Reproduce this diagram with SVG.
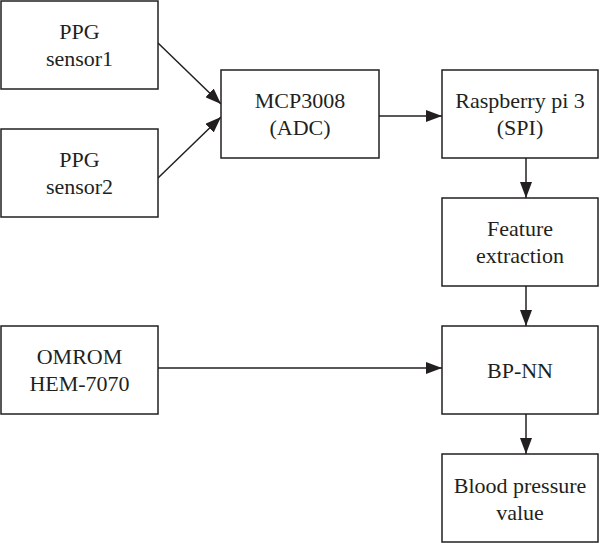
<svg xmlns="http://www.w3.org/2000/svg" width="600" height="543" viewBox="0 0 600 543">
<style>
.box{fill:#fff;stroke:#231f20;stroke-width:1.5}
.t{font-family:"Liberation Serif","Times New Roman",serif;font-size:22px;fill:#231f20;text-anchor:middle}
.c{stroke:#231f20;stroke-width:1.5;fill:none}
</style>
<defs>
<marker id="ah" viewBox="0 0 16 12" refX="16" refY="6" markerWidth="16" markerHeight="12" markerUnits="userSpaceOnUse" orient="auto">
<path d="M0,0 L16,6 L0,12 Z" fill="#231f20"/>
</marker>
</defs>
<rect width="600" height="543" fill="#fff"/>
<g id="connectors">
<line class="c" x1="158" y1="43" x2="221" y2="104" marker-end="url(#ah)"/>
<line class="c" x1="158" y1="178" x2="221" y2="117" marker-end="url(#ah)"/>
<line class="c" x1="379" y1="116" x2="442" y2="116" marker-end="url(#ah)"/>
<line class="c" x1="526" y1="158" x2="526" y2="198" marker-end="url(#ah)"/>
<line class="c" x1="526" y1="286" x2="526" y2="326" marker-end="url(#ah)"/>
<line class="c" x1="158" y1="368" x2="442" y2="368" marker-end="url(#ah)"/>
<line class="c" x1="526" y1="414" x2="526" y2="454" marker-end="url(#ah)"/>
</g>
<g id="ppg1">
<rect class="box" x="1" y="1" width="157" height="88"/>
<text class="t" x="79.5" y="39">PPG</text>
<text class="t" x="79.5" y="66">sensor1</text>
</g>
<g id="ppg2">
<rect class="box" x="1" y="129" width="157" height="88"/>
<text class="t" x="79.5" y="167">PPG</text>
<text class="t" x="79.5" y="194">sensor2</text>
</g>
<g id="mcp">
<rect class="box" x="221" y="70" width="158" height="88"/>
<text class="t" x="300" y="108">MCP3008</text>
<text class="t" x="300" y="135">(ADC)</text>
</g>
<g id="rpi">
<rect class="box" x="442" y="70" width="156" height="88"/>
<text class="t" x="520" y="108">Raspberry pi 3</text>
<text class="t" x="520" y="135">(SPI)</text>
</g>
<g id="feature">
<rect class="box" x="442" y="198" width="156" height="88"/>
<text class="t" x="520" y="236">Feature</text>
<text class="t" x="520" y="263">extraction</text>
</g>
<g id="omrom">
<rect class="box" x="1" y="326" width="157" height="88"/>
<text class="t" x="79.5" y="364">OMROM</text>
<text class="t" x="79.5" y="391">HEM-7070</text>
</g>
<g id="bpnn">
<rect class="box" x="442" y="326" width="156" height="88"/>
<text class="t" x="520" y="378">BP-NN</text>
</g>
<g id="bp">
<rect class="box" x="442" y="454" width="156" height="88"/>
<text class="t" x="520" y="493">Blood pressure</text>
<text class="t" x="520" y="520">value</text>
</g>
</svg>
